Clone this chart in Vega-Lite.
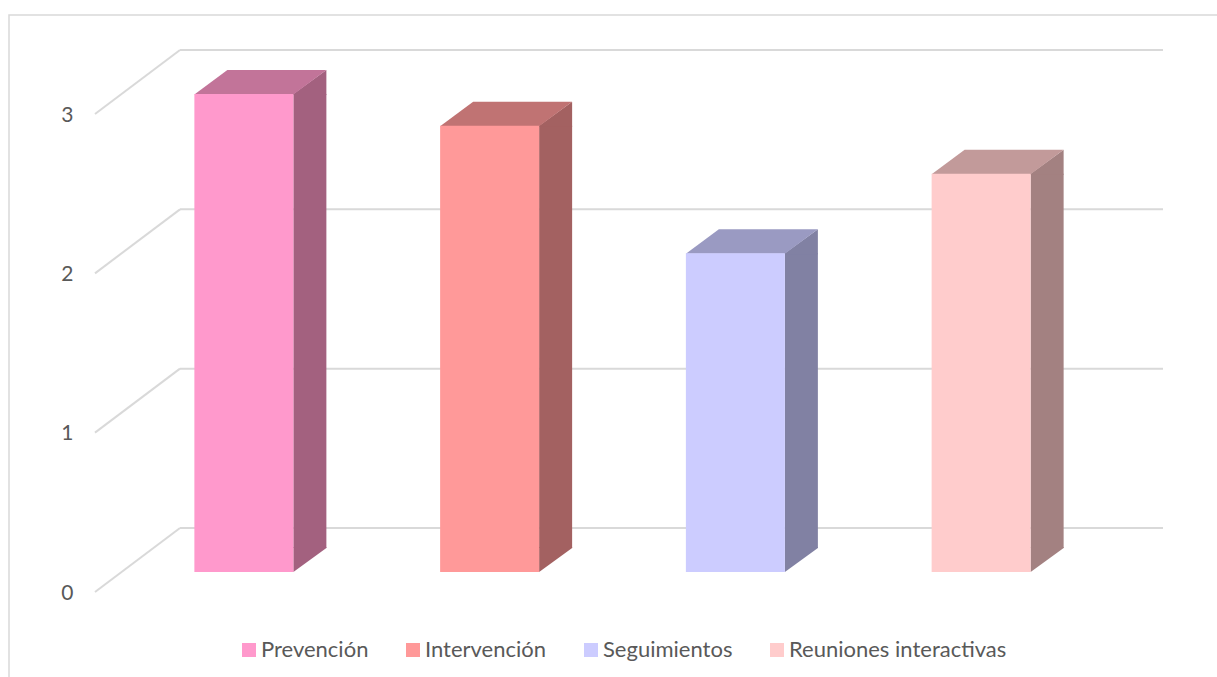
{
  "$schema": "https://vega.github.io/schema/vega-lite/v6.json",
  "width": 983,
  "height": 478,
  "autosize": "none",
  "padding": {"left": 180, "top": 94, "right": 54, "bottom": 105},
  "background": "white",
  "config": {
    "view": {"stroke": null},
    "font": "Lato",
    "axisY": {"domain": false, "ticks": false, "tickSize": 0, "grid": false, "labelPadding": 107, "labelOffset": 21, "labelFontSize": 21, "labelColor": "#595959", "labelFont": "Lato"},
    "legend": {"orient": "none", "legendX": 58, "legendY": 545, "direction": "horizontal", "symbolType": "square", "symbolSize": 196, "symbolStrokeWidth": 0, "symbolOpacity": 1, "labelFont": "Lato", "labelFontSize": 22, "labelColor": "#595959", "labelLimit": 400, "labelOffset": 1, "columnPadding": 33, "padding": 0}
  },
  "data": {"values": [
    {"categoria": "Prevención", "valor": 3},
    {"categoria": "Intervención", "valor": 2.8},
    {"categoria": "Seguimientos", "valor": 2},
    {"categoria": "Reuniones interactivas", "valor": 2.5}
  ]},
  "resolve": {"scale": {"x": "independent", "color": "independent"}},
  "layer": [
    {
      "data": {"values": [{"a": 0}]},
      "mark": {"type": "rect", "fillOpacity": 0, "stroke": "#d9d9d9", "strokeWidth": 1.5, "xOffset": -171, "x2Offset": 60, "yOffset": -79, "y2Offset": 110},
      "encoding": {
        "x": {"datum": 0, "type": "quantitative", "scale": {"domain": [0, 1]}, "axis": null},
        "x2": {"datum": 1},
        "y": {"datum": 3, "type": "quantitative", "scale": {"domain": [0, 3], "nice": false}, "axis": {"values": [0, 1, 2, 3], "title": null}},
        "y2": {"datum": 0}
      }
    },
    {
      "data": {"values": [{"t": 0}, {"t": 1}, {"t": 2}, {"t": 3}]},
      "mark": {"type": "rule", "color": "#d9d9d9", "strokeWidth": 2, "yOffset": -44},
      "encoding": {
        "y": {"field": "t", "type": "quantitative", "axis": {"values": [0, 1, 2, 3], "title": null}}
      }
    },
    {
      "data": {"values": [{"t": 0}, {"t": 1}, {"t": 2}, {"t": 3}]},
      "mark": {"type": "rule", "color": "#d9d9d9", "strokeWidth": 2, "yOffset": -44, "x2Offset": -85, "y2Offset": 20},
      "encoding": {
        "x": {"datum": 0, "type": "quantitative", "scale": {"domain": [0, 1]}, "axis": null},
        "x2": {"datum": 0},
        "y": {"field": "t", "type": "quantitative", "axis": {"values": [0, 1, 2, 3], "title": null}},
        "y2": {"field": "t"}
      }
    },
    {
      "mark": {"type": "bar", "width": 33, "xOffset": 7, "y2Offset": -24, "opacity": 1},
      "encoding": {
        "x": {"field": "categoria", "type": "nominal", "sort": null, "scale": {"paddingInner": 0, "paddingOuter": 0}, "axis": null},
        "y": {"field": "valor", "type": "quantitative", "axis": {"values": [0, 1, 2, 3], "title": null}},
        "y2": {"datum": 0},
        "color": {"field": "categoria", "type": "nominal", "scale": {"domain": ["Prevención", "Intervención", "Seguimientos", "Reuniones interactivas"], "range": ["#A3617F", "#A36161", "#8181A3", "#A38181"]}, "legend": null}
      }
    },
    {
      "mark": {"type": "point", "shape": "M0,0L33,-24L33,1L0,1Z", "size": 4, "filled": true, "opacity": 1, "strokeWidth": 0, "xOffset": -9.5},
      "encoding": {
        "x": {"field": "categoria", "type": "nominal", "sort": null, "scale": {"paddingInner": 0, "paddingOuter": 0}, "axis": null},
        "y": {"field": "valor", "type": "quantitative", "axis": {"values": [0, 1, 2, 3], "title": null}},
        "color": {"field": "categoria", "type": "nominal", "scale": {"domain": ["Prevención", "Intervención", "Seguimientos", "Reuniones interactivas"], "range": ["#A3617F", "#A36161", "#8181A3", "#A38181"]}, "legend": null}
      }
    },
    {
      "mark": {"type": "point", "shape": "M0,0L0,-25L33,-25L33,-24Z", "size": 4, "filled": true, "opacity": 1, "strokeWidth": 0, "xOffset": -9.5},
      "encoding": {
        "x": {"field": "categoria", "type": "nominal", "sort": null, "scale": {"paddingInner": 0, "paddingOuter": 0}, "axis": null},
        "y": {"datum": 0, "type": "quantitative", "axis": {"values": [0, 1, 2, 3], "title": null}},
        "color": {"field": "categoria", "type": "nominal", "scale": {"domain": ["Prevención", "Intervención", "Seguimientos", "Reuniones interactivas"], "range": ["#A3617F", "#A36161", "#8181A3", "#A38181"]}, "legend": null}
      }
    },
    {
      "mark": {"type": "point", "shape": "M-49.5,0.5L49.5,0.5L82.5,-24L-16.5,-24Z", "size": 4, "filled": true, "opacity": 1, "strokeWidth": 0, "xOffset": -59},
      "encoding": {
        "x": {"field": "categoria", "type": "nominal", "sort": null, "scale": {"paddingInner": 0, "paddingOuter": 0}, "axis": null},
        "y": {"field": "valor", "type": "quantitative", "axis": {"values": [0, 1, 2, 3], "title": null}},
        "color": {"field": "categoria", "type": "nominal", "scale": {"domain": ["Prevención", "Intervención", "Seguimientos", "Reuniones interactivas"], "range": ["#C27499", "#C07373", "#9A9AC2", "#C29A9A"]}, "legend": null}
      }
    },
    {
      "mark": {"type": "bar", "width": 99, "xOffset": -59, "opacity": 1},
      "encoding": {
        "x": {"field": "categoria", "type": "nominal", "sort": null, "scale": {"paddingInner": 0, "paddingOuter": 0}, "axis": null},
        "y": {"field": "valor", "type": "quantitative", "axis": {"values": [0, 1, 2, 3], "title": null}},
        "y2": {"datum": 0},
        "color": {"field": "categoria", "type": "nominal", "scale": {"domain": ["Prevención", "Intervención", "Seguimientos", "Reuniones interactivas"], "range": ["#FF99CC", "#FF9999", "#CCCCFF", "#FFCCCC"]}, "legend": {"title": null}}
      }
    }
  ]
}
